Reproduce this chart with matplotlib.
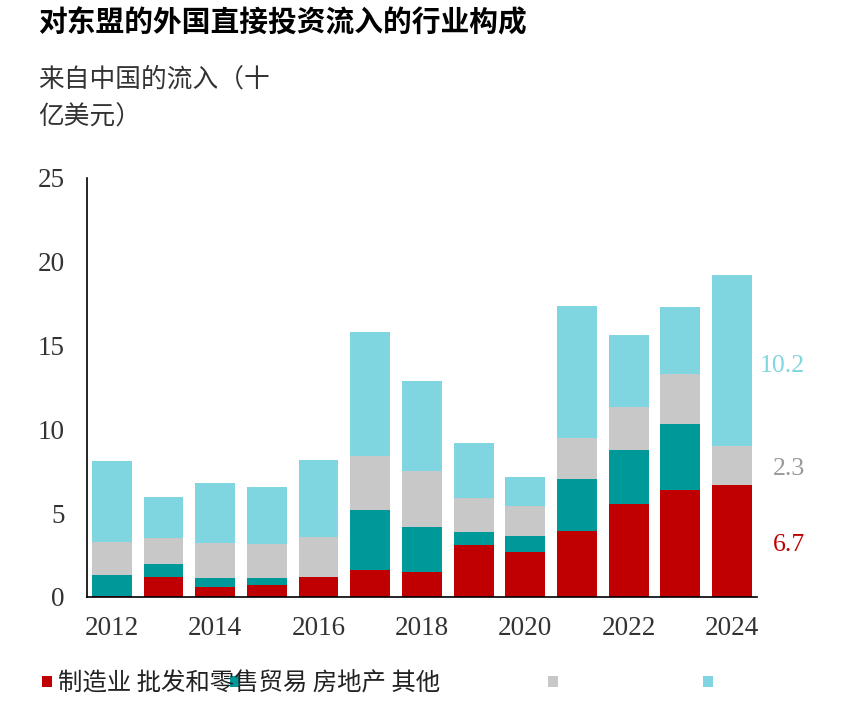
import matplotlib
matplotlib.use("Agg")
import matplotlib.pyplot as plt
from matplotlib.patches import Rectangle

years = [2012, 2013, 2014, 2015, 2016, 2017, 2018, 2019, 2020, 2021, 2022, 2023, 2024]
manufacturing = [0.05, 1.2, 0.6, 0.7, 1.2, 1.6, 1.5, 3.1, 2.65, 3.95, 5.55, 6.35, 6.7]
trade = [1.25, 0.75, 0.5, 0.4, 0.0, 3.6, 2.65, 0.8, 1.0, 3.1, 3.2, 3.95, 0.0]
real_estate = [2.0, 1.55, 2.1, 2.05, 2.35, 3.2, 3.35, 2.0, 1.75, 2.45, 2.55, 3.0, 2.3]
other = [4.8, 2.45, 3.6, 3.4, 4.6, 7.4, 5.35, 3.3, 1.75, 7.85, 4.35, 4.0, 10.2]

labels = ["制造业", "批发和零售贸易", "房地产", "其他"]
colors = ["#c00000", "#00999a", "#c8c8c8", "#80d6e0"]
xticks = [2012, 2014, 2016, 2018, 2020, 2022, 2024]

cjk = ["Noto Sans CJK SC", "DejaVu Sans"]
num_font = "Liberation Serif"

fig = plt.figure(figsize=(8.62, 7.2), dpi=100)
ax = fig.add_axes([0.101, 0.171, 0.777, 0.582])

bottom = [0.0] * len(years)
for vals, col in zip([manufacturing, trade, real_estate, other], colors):
    ax.bar(years, vals, bottom=bottom, width=0.77, color=col, linewidth=0)
    bottom = [b + v for b, v in zip(bottom, vals)]

ax.set_xlim(2011.52, 2024.48)
ax.set_ylim(0, 25)
ax.set_yticks([0, 5, 10, 15, 20, 25])
ax.set_xticks(xticks)
for s in ["top", "right"]:
    ax.spines[s].set_visible(False)
for s in ["left", "bottom"]:
    ax.spines[s].set_linewidth(1.2)
    ax.spines[s].set_color("black")
ax.tick_params(axis="both", length=0, labelsize=19.5, labelcolor="#333333")
ax.tick_params(axis="y", pad=16)
ax.tick_params(axis="x", pad=14)
for t in ax.get_xticklabels() + ax.get_yticklabels():
    t.set_fontfamily(num_font)

# labels for the last bar
last = len(years) - 1
m = manufacturing[last]
r = real_estate[last] + trade[last]
o = other[last]
tr = ax.get_yaxis_transform()
ax.text(1.072, m / 2 - 0.25, "6.7", transform=tr, ha="right", va="center",
        fontsize=18.5, color=colors[0], fontfamily=num_font)
ax.text(1.072, m + r / 2 - 0.25, "2.3", transform=tr, ha="right", va="center",
        fontsize=18.5, color="#999999", fontfamily=num_font)
ax.text(1.072, m + r + o / 2 - 0.3, "10.2", transform=tr, ha="right", va="center",
        fontsize=18.5, color=colors[3], fontfamily=num_font)

fig.text(38 / 862, 1 - 22 / 720, "对东盟的外国直接投资流入的行业构成", fontsize=20.7,
         fontweight="bold", family=cjk, va="center", ha="left", color="black")
fig.text(38 / 862, 1 - 80 / 720, "来自中国的流入（十", fontsize=18.5, family=cjk,
         fontweight="light", va="center", ha="left", color="#333333")
fig.text(38 / 862, 1 - 118 / 720, "亿美元）", fontsize=18.5, family=cjk,
         fontweight="light", va="center", ha="left", color="#333333")

# legend (labels run together as in the source)
for xpix, col in zip([42, 230, 548, 703], colors):
    fig.patches.append(Rectangle((xpix / 862, 1 - 687 / 720), 10 / 862, 11 / 720,
                                 transform=fig.transFigure, color=col, linewidth=0))
fig.text(58 / 862, 1 - 682 / 720, " ".join(labels), fontsize=17.6, family=cjk,
         fontweight="light", va="center", ha="left", color="#222222")

fig.savefig("out.png", dpi=100)
